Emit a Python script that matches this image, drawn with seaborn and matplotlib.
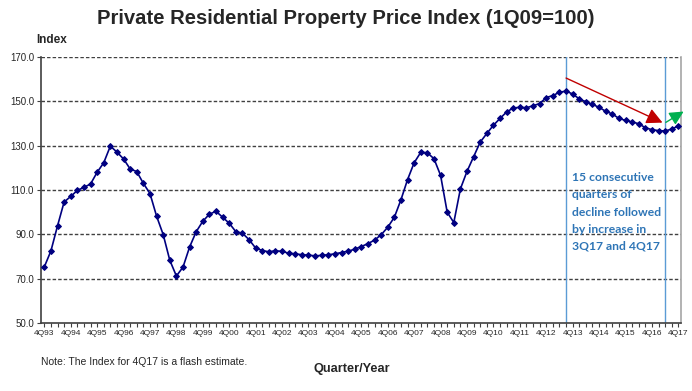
import matplotlib
matplotlib.use("Agg")
import matplotlib.pyplot as plt
import numpy as np
import pandas as pd
import seaborn as sns

# quarterly index values, 4Q93 .. 4Q17 (1Q09 = 100)
first_year = 1993
price_index = [
    75.3, 82.5, 93.8, 104.6, 107.1, 109.8, 111.2, 112.7, 118.0, 122.3,
    129.8, 127.1, 124.0, 119.5, 118.3, 113.0, 108.4, 98.2, 89.9, 78.3,
    71.2, 75.2, 84.3, 91.2, 95.9, 99.1, 100.4, 97.7, 95.0, 91.2,
    90.5, 87.6, 83.8, 82.7, 82.1, 82.6, 82.3, 81.5, 81.2, 80.8,
    80.6, 80.3, 80.5, 80.8, 81.2, 81.8, 82.4, 83.3, 84.5, 85.8,
    87.4, 89.8, 93.2, 97.7, 105.6, 114.7, 122.3, 127.0, 126.8, 124.1,
    116.6, 100.0, 95.3, 110.5, 118.4, 125.0, 131.6, 135.5, 139.2, 142.3,
    145.2, 147.0, 147.3, 147.1, 148.0, 149.0, 151.7, 152.6, 154.1, 154.6,
    153.3, 151.1, 149.8, 148.6, 147.3, 145.5, 144.3, 142.3, 141.4, 140.7,
    139.9, 138.1, 137.2, 136.8, 136.6, 137.5, 138.9,
]
quarters = list(range(len(price_index)))
tick_labels = [f"4Q{(first_year + i) % 100:02d}" for i in range(25)]
y_ticks = [50, 70, 90, 110, 130, 150, 170]

# annotation anchors (quarter index, index value)
peak_q = 79        # 3Q13
trough_q = 94      # 2Q17
red_arrow = [(79, 160.5), (93.6, 140.4)]
green_arrow = [(94.1, 140.5), (96.8, 145.4)]
note_text = "15 consecutive\nquarters of\ndecline followed\nby increase in\n3Q17 and 4Q17"

df = pd.DataFrame({"quarter": quarters, "index": price_index})

sns.set_theme(style="white")
plt.rcParams["font.family"] = ["Liberation Sans", "DejaVu Sans"]

fig = plt.figure(figsize=(6.92, 3.91), dpi=100)
ax = fig.add_axes([41 / 692, 68 / 391, 640 / 692, 266 / 391])

# dashed horizontal gridlines
for yv in y_ticks[1:]:
    ax.axhline(yv, color="#404040", linestyle=(0, (2.5, 1.5)), linewidth=1.0, zorder=1)

# blue marker lines
ax.axvline(peak_q, color="#5B9BD5", linewidth=1.0, zorder=2)
ax.axvline(trough_q, color="#5B9BD5", linewidth=1.0, zorder=2)

sns.lineplot(
    data=df, x="quarter", y="index", ax=ax,
    color="#000080", linewidth=1.2, marker="D", markersize=3.0,
    markeredgecolor="#000080", zorder=3,
)

ax.annotate(
    "", xy=red_arrow[1], xytext=red_arrow[0],
    arrowprops=dict(arrowstyle="-|>,head_length=0.8,head_width=0.4",
                    color="#C00000", lw=1.0, shrinkA=0, shrinkB=0),
    annotation_clip=False,
)
ax.annotate(
    "", xy=green_arrow[1], xytext=green_arrow[0],
    arrowprops=dict(arrowstyle="-|>,head_length=0.7,head_width=0.35",
                    color="#00B050", lw=1.0, shrinkA=0, shrinkB=0),
    annotation_clip=False,
)

ax.text(79.9, 118.0, note_text, color="#2E75B6", fontsize=8.7,
        fontweight="bold", family=["Lato", "DejaVu Sans"],
        va="top", ha="left", linespacing=1.68, zorder=4)

ax.set_xlim(-0.5, 96.4)
ax.set_ylim(50, 170)
ax.set_yticks(y_ticks)
ax.set_yticklabels([f"{v:.1f}" for v in y_ticks], fontsize=7)
ax.set_xticks(quarters[::4])
ax.set_xticklabels(tick_labels, fontsize=6)
ax.set_xticks(quarters, minor=True)
ax.tick_params(axis="x", which="both", direction="out", length=3, width=0.8,
               pad=2, bottom=True, color="#404040")
ax.tick_params(axis="y", direction="out", length=3, width=0.8, pad=2,
               left=True, color="#404040")
ax.set_xlabel("")
ax.set_ylabel("")

ax.spines["top"].set_visible(False)
ax.spines["left"].set_color("#404040")
ax.spines["bottom"].set_color("#404040")
ax.spines["right"].set_color("#A6A6A6")
for side in ["left", "bottom", "right"]:
    ax.spines[side].set_linewidth(1.2)

fig.text(0.5, 1 - 18 / 391, "Private Residential Property Price Index (1Q09=100)",
         ha="center", va="center", fontsize=14.6, fontweight="bold")
fig.text(52 / 692, 1 - 40 / 391, "Index", ha="center", va="center",
         fontsize=8.5, fontweight="bold")
fig.text(41 / 692, 1 - 362 / 391, "Note: The Index for 4Q17 is a flash estimate.",
         ha="left", va="center", fontsize=7.5)
fig.text(352 / 692, 1 - 369 / 391, "Quarter/Year", ha="center", va="center",
         fontsize=9.2, fontweight="bold")

fig.savefig("out.png", dpi=100)
